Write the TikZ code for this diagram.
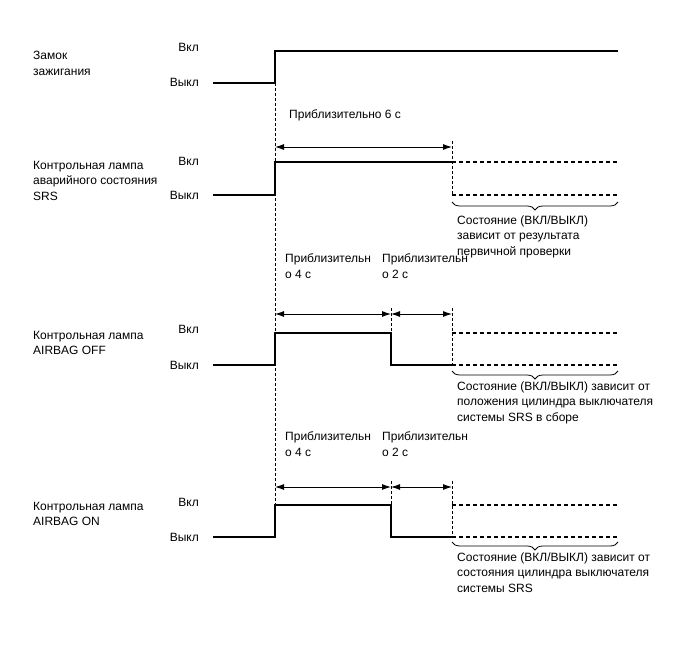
\documentclass[tikz,border=0pt]{standalone}
\usepackage{fontspec}
\setmainfont{Liberation Sans}
\usetikzlibrary{arrows.meta,decorations.pathreplacing}
\begin{document}
\begin{tikzpicture}[x=1pt,y=-1pt,
 lbl/.style={anchor=base west,inner sep=0,font=\fontsize{12}{15.5}\selectfont,align=left},
 lblr/.style={anchor=base east,inner sep=0,font=\fontsize{12}{15.5}\selectfont},
 sig/.style={line width=1.4pt},
 sigd/.style={line width=1.1pt,dash pattern=on 4pt off 3pt},
 guide/.style={line width=0.6pt,dash pattern=on 3pt off 2pt},
 dim/.style={line width=0.9pt,{Latex[length=9pt,width=6pt]}-{Latex[length=9pt,width=6pt]}},
 brc/.style={decorate,decoration={brace,mirror,amplitude=8pt},line width=0.8pt}]
\useasboundingbox (0,0) rectangle (688,658);

% ---------- ignition switch
\node[lbl] (t1) at (33,75.5) {Замок\\зажигания};
\node[lblr] (on1) at (199,52) {Вкл};
\node[lblr] (off1) at (199,87) {Выкл};
\coordinate (a1) at (213,83);
\coordinate (a2) at (275,83);
\coordinate (a3) at (275,51);
\coordinate (a4) at (618,51);
\coordinate (g1) at (275,537);
\draw[sig] (a1) -- (a2) -- (a3) -- (a4);
\draw[guide] (a2) -- (g1);

% ---------- SRS warning lamp
\node[lbl] (t2) at (33,200) {Контрольная лампа\\аварийного состояния\\SRS};
\node[lblr] (on2) at (199,165) {Вкл};
\node[lblr] (off2) at (199,199) {Выкл};
\node[lbl] (d2) at (289,119) {Приблизительно 6 с};
\coordinate (b1) at (213,195);
\coordinate (b2) at (275,195);
\coordinate (b3) at (275,162);
\coordinate (b4) at (452,162);
\coordinate (b5) at (618,162);
\coordinate (b6) at (452,195);
\coordinate (b7) at (618,195);
\coordinate (bA) at (275,147);
\coordinate (bB) at (452,147);
\coordinate (bC) at (452,141);
\coordinate (bD) at (452,202);
\coordinate (bE) at (618,202);
\draw[sig] (b1) -- (b2) -- (b3) -- (b4);
\draw[sigd] (b4) -- (b5);
\draw[sigd] (b6) -- (b7);
\draw[guide] (bC) -- (b6);
\draw[dim] (bA) -- (bB);
\draw[brc] (bD) -- (bE);
\node[lbl] (n2) at (457,255) {Состояние (ВКЛ/ВЫКЛ)\\зависит от результата\\первичной проверки};

% ---------- AIRBAG OFF
\node[lbl] (t3) at (33,354.5) {Контрольная лампа\\AIRBAG OFF};
\node[lblr] (on3) at (199,333) {Вкл};
\node[lblr] (off3) at (199,369) {Выкл};
\node[lbl] (d3a) at (285,278) {Приблизительн\\о 4 с};
\node[lbl] (d3b) at (382,278) {Приблизительн\\о 2 с};
\coordinate (c1) at (213,365);
\coordinate (c2) at (275,365);
\coordinate (c3) at (275,333);
\coordinate (c4) at (391,333);
\coordinate (c5) at (391,365);
\coordinate (c6) at (452,365);
\coordinate (c7) at (452,333);
\coordinate (c8) at (618,333);
\coordinate (c9) at (618,365);
\coordinate (cA) at (275,314);
\coordinate (cB) at (391,314);
\coordinate (cC) at (452,314);
\coordinate (cG) at (391,308);
\coordinate (cH) at (452,308);
\coordinate (cD) at (452,371);
\coordinate (cE) at (618,371);
\draw[sig] (c1) -- (c2) -- (c3) -- (c4) -- (c5) -- (c6);
\draw[sigd] (c7) -- (c8);
\draw[sigd] (c6) -- (c9);
\draw[guide] (cG) -- (c4);
\draw[guide] (cH) -- (c6);
\draw[dim] (cA) -- (cB);
\draw[dim] (cB) -- (cC);
\draw[brc] (cD) -- (cE);
\node[lbl] (n3) at (457,421) {Состояние (ВКЛ/ВЫКЛ) зависит от\\положения цилиндра выключателя\\системы SRS в сборе};

% ---------- AIRBAG ON
\node[lbl] (t4) at (33,525.5) {Контрольная лампа\\AIRBAG ON};
\node[lblr] (on4) at (199,506) {Вкл};
\node[lblr] (off4) at (199,541) {Выкл};
\node[lbl] (d4a) at (285,456) {Приблизительн\\о 4 с};
\node[lbl] (d4b) at (382,456) {Приблизительн\\о 2 с};
\coordinate (e1) at (213,537);
\coordinate (e2) at (275,537);
\coordinate (e3) at (275,505);
\coordinate (e4) at (391,505);
\coordinate (e5) at (391,537);
\coordinate (e6) at (452,537);
\coordinate (e7) at (452,505);
\coordinate (e8) at (618,505);
\coordinate (e9) at (618,537);
\coordinate (eA) at (275,487);
\coordinate (eB) at (391,487);
\coordinate (eC) at (452,487);
\coordinate (eG) at (391,481);
\coordinate (eH) at (452,481);
\coordinate (eD) at (452,542);
\coordinate (eE) at (618,542);
\draw[sig] (e1) -- (e2) -- (e3) -- (e4) -- (e5) -- (e6);
\draw[sigd] (e7) -- (e8);
\draw[sigd] (e6) -- (e9);
\draw[guide] (eG) -- (e4);
\draw[guide] (eH) -- (e6);
\draw[dim] (eA) -- (eB);
\draw[dim] (eB) -- (eC);
\draw[brc] (eD) -- (eE);
\node[lbl] (n4) at (457,592) {Состояние (ВКЛ/ВЫКЛ) зависит от\\состояния цилиндра выключателя\\системы SRS};
\end{tikzpicture}
\end{document}
